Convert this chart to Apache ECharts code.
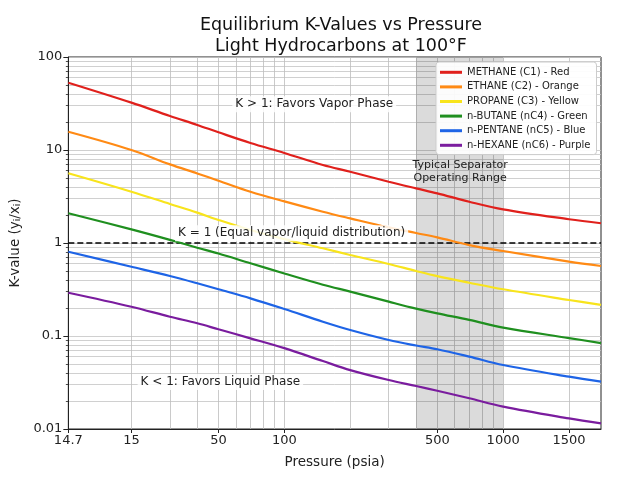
<!DOCTYPE html>
<html>
<head>
<meta charset="utf-8">
<script src="https://cdn.jsdelivr.net/npm/echarts@6/dist/echarts.min.js"></script>
<style>
html,body{margin:0;padding:0;background:#fff;}
#chart{width:643px;height:480px;}
</style>
</head>
<body>
<div id="chart"></div>
<script>
// Pressure positions along the (log) x axis
var pressure = [10.3, 20, 30, 40, 50, 70, 100, 150, 200, 300, 400, 500, 700, 1000, 2000, 2800];
var methane  = [52.9, 32.3, 23.2, 18.6, 15.5, 11.9, 9.3, 6.9, 5.84, 4.56, 3.87, 3.42, 2.78, 2.30, 1.80, 1.63];
var ethane   = [15.7, 10.0, 7.0, 5.6, 4.68, 3.56, 2.8, 2.17, 1.84, 1.47, 1.28, 1.15, 0.95, 0.82, 0.63, 0.566];
var propane  = [5.62, 3.56, 2.63, 2.12, 1.77, 1.38, 1.1, 0.877, 0.743, 0.595, 0.50, 0.44, 0.374, 0.318, 0.244, 0.216];
var nbutane  = [2.09, 1.40, 1.08, 0.89, 0.77, 0.605, 0.47, 0.356, 0.30, 0.234, 0.197, 0.175, 0.149, 0.123, 0.095, 0.084];
var npentane = [0.806, 0.556, 0.442, 0.369, 0.318, 0.254, 0.195, 0.1425, 0.116, 0.0906, 0.079, 0.072, 0.060, 0.0488, 0.0365, 0.0323];
var nhexane  = [0.292, 0.2065, 0.161, 0.137, 0.118, 0.0944, 0.074, 0.0538, 0.043, 0.0336, 0.029, 0.0258, 0.0214, 0.0174, 0.013, 0.0115];

var seriesNames = ['METHANE (C1) - Red', 'ETHANE (C2) - Orange', 'PROPANE (C3) - Yellow',
                   'n-BUTANE (nC4) - Green', 'n-PENTANE (nC5) - Blue', 'n-HEXANE (nC6) - Purple'];
var seriesColors = ['#e0201c', '#ff8a14', '#f8e41c', '#1f8f1f', '#1e64e6', '#7a1c9e'];
var seriesValues = [methane, ethane, propane, nbutane, npentane, nhexane];

var xTickValues = [10.3, 20, 50, 100, 500, 1000, 2000];
var xTickLabels = ['14.7', '15', '50', '100', '500', '1000', '1500'];
var xGridValues = [20, 30, 40, 50, 60, 70, 80, 90, 100, 200, 300, 400, 500, 600, 700, 800, 900, 1000, 2000];
var yTickValues = [0.01, 0.1, 1, 10, 100];
var yTickLabels = ['0.01', '0.1', '1', '10', '100'];
var yGridValues = [0.01, 0.02, 0.03, 0.04, 0.05, 0.06, 0.07, 0.08, 0.09,
                   0.1, 0.2, 0.3, 0.4, 0.5, 0.6, 0.7, 0.8, 0.9,
                   1, 2, 3, 4, 5, 6, 7, 8, 9,
                   10, 20, 30, 40, 50, 60, 70, 80, 90, 100];

var separatorRange = [400, 1000];
var annotationTexts = ['K > 1: Favors Vapor Phase', 'K < 1: Favors Liquid Phase',
                       'K = 1 (Equal vapor/liquid distribution)', 'Typical Separator\nOperating Range'];
var annotationP = [137, 51, 108, 636];
var annotationK = [31, 0.032, 1.27, 5.8];

var FONT = 'DejaVu Sans';

function lookupLabel(vals, labels, v) {
  for (var i = 0; i < vals.length; i++) {
    if (Math.abs(Math.log10(v) - Math.log10(vals[i])) < 0.005) return labels[i];
  }
  return '';
}

var series = seriesValues.map(function (vals, i) {
  return {
    name: seriesNames[i],
    type: 'line',
    smooth: 0.35,
    showSymbol: false,
    symbol: 'none',
    z: 5,
    lineStyle: {color: seriesColors[i], width: 2.2},
    itemStyle: {color: seriesColors[i]},
    data: pressure.map(function (p, j) { return [p, vals[j]]; })
  };
});

var markPointData = annotationTexts.map(function (t, i) {
  var isSep = i === 3;
  return {
    coord: [annotationP[i], annotationK[i]],
    label: {
      show: true, position: 'inside', formatter: t, color: '#222',
      fontSize: isSep ? 11 : 12, fontFamily: FONT, lineHeight: isSep ? 13 : 14, align: 'center',
      backgroundColor: isSep ? 'transparent' : 'rgba(255,255,255,0.85)', padding: [1, 3]
    }
  };
});

series.push({
  name: '_annot',
  type: 'line',
  data: [],
  silent: true,
  z: 3,
  markArea: {
    silent: true,
    itemStyle: {color: 'rgba(0,0,0,0.14)'},
    data: [[{xAxis: separatorRange[0]}, {xAxis: separatorRange[1]}]]
  },
  markLine: {
    silent: true,
    symbol: 'none',
    lineStyle: {color: '#000', type: [6, 3], width: 1.5},
    label: {show: false},
    data: [{yAxis: 1}]
  }
});
series.push({
  name: '_text',
  type: 'line',
  silent: true,
  z: 10,
  data: [],
  markPoint: {
    silent: true,
    symbol: 'rect',
    symbolSize: 2,
    itemStyle: {color: 'rgba(0,0,0,0)'},
    z: 10,
    data: markPointData
  }
});

var chart = echarts.init(document.getElementById('chart'), null, {renderer: 'canvas'});
chart.setOption({
  animation: false,
  backgroundColor: '#fff',
  textStyle: {fontFamily: FONT},
  title: {
    text: 'Equilibrium K-Values vs Pressure\nLight Hydrocarbons at 100°F',
    left: 336,
    textAlign: 'center',
    top: 10,
    textStyle: {fontFamily: FONT, fontSize: 17.5, fontWeight: 'normal', color: '#111', lineHeight: 21}
  },
  grid: {left: 68, right: 42, top: 57, bottom: 51, show: true, borderColor: '#222', borderWidth: 1, backgroundColor: 'transparent'},
  legend: {
    data: seriesNames,
    orient: 'vertical',
    left: 436,
    top: 62,
    width: 160,
    padding: [4, 6, 3, 4],
    itemGap: 2,
    itemWidth: 22,
    itemHeight: 3,
    icon: 'rect',
    backgroundColor: 'rgba(255,255,255,0.92)',
    borderColor: '#ccc',
    borderWidth: 1,
    borderRadius: 3,
    textStyle: {fontFamily: FONT, fontSize: 10, color: '#222', lineHeight: 12.6, padding: [0, 0, 0, 0]},
    z: 20
  },
  xAxis: [{
    type: 'log',
    logBase: 10,
    min: 10.3,
    max: 2800,
    name: 'Pressure (psia)',
    nameLocation: 'middle',
    nameGap: 26,
    nameTextStyle: {fontFamily: FONT, fontSize: 13.5, color: '#222'},
    axisLine: {show: true, onZero: false, lineStyle: {color: '#222', width: 1}},
    axisTick: {show: false, customValues: xGridValues},
    axisLabel: {
      customValues: xTickValues,
      fontFamily: FONT, fontSize: 13, color: '#222', margin: 5,
      formatter: function (v) { return lookupLabel(xTickValues, xTickLabels, v); }
    },
    splitLine: {show: true, lineStyle: {color: '#bcbcbc', width: 0.8}},
    minorTick: {show: false},
    minorSplitLine: {show: false}
  }, {
    type: 'log',
    logBase: 10,
    min: 10.3,
    max: 2800,
    position: 'bottom',
    axisLine: {show: false},
    axisTick: {show: true, customValues: xTickValues, length: 4, lineStyle: {color: '#222'}},
    axisLabel: {show: false},
    splitLine: {show: false}
  }],
  yAxis: [{
    type: 'log',
    logBase: 10,
    min: 0.01,
    max: 100,
    name: '{n|K-value (y}{s|i}{n|/x}{s|i}{n|)}',
    nameLocation: 'middle',
    nameGap: 40,
    nameRotate: 90,
    nameTextStyle: {
      rich: {
        n: {fontFamily: FONT, fontSize: 13.5, color: '#222'},
        s: {fontFamily: FONT, fontSize: 9, color: '#222', verticalAlign: 'bottom', padding: [6, 0, 0, 0]}
      }
    },
    axisLine: {show: true, onZero: false, lineStyle: {color: '#222', width: 1}},
    axisTick: {show: true, customValues: yGridValues, length: 2.5, lineStyle: {color: '#222', width: 0.8}},
    axisLabel: {
      customValues: yTickValues,
      fontFamily: FONT, fontSize: 13, color: '#222', margin: 6,
      formatter: function (v) { return lookupLabel(yTickValues, yTickLabels, v); }
    },
    splitLine: {show: true, lineStyle: {color: '#c4c4c4', width: 0.8}},
    minorTick: {show: false},
    minorSplitLine: {show: false}
  }, {
    type: 'log',
    logBase: 10,
    min: 0.01,
    max: 100,
    position: 'left',
    axisLine: {show: false},
    axisTick: {show: true, customValues: yTickValues, length: 5, lineStyle: {color: '#222'}},
    axisLabel: {show: false},
    splitLine: {show: false}
  }],
  series: series
});
</script>
</body>
</html>
